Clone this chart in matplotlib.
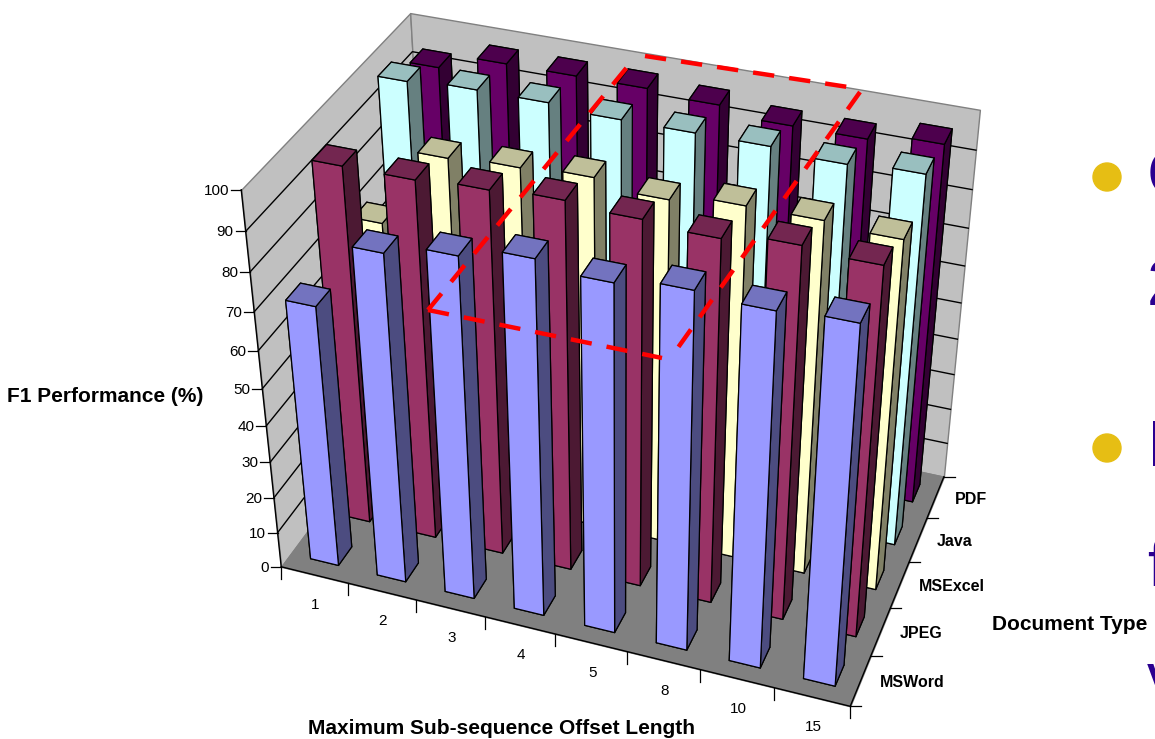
import numpy as np
import matplotlib
matplotlib.use("Agg")
import matplotlib.pyplot as plt
from matplotlib.patches import Circle
from mpl_toolkits.mplot3d import proj3d
from mpl_toolkits.mplot3d.art3d import Poly3DCollection

W, H = 1155, 739
plt.rcParams["font.family"] = ["Liberation Sans", "DejaVu Sans"]

# Chart data
offset_lengths = ["1", "2", "3", "4", "5", "8", "10", "15"]
doc_types = ["MSWord", "JPEG", "MSExcel", "Java", "PDF"]
f1_msword = [71, 88, 91, 94, 92, 94, 93, 94]
f1_jpeg = [96, 96, 97, 98, 97, 96, 98, 97]
f1_msexcel = [72, 92, 93, 94, 92, 94, 94, 93]
f1_java = [99, 100, 100, 99, 99, 99, 98, 99]
f1_pdf = [94, 98, 98, 98, 97, 95, 95, 97]
z_ticks = [0, 10, 20, 30, 40, 50, 60, 70, 80, 90, 100]

# (front, top, side) colours of each series
series = [
    (f1_msword, "#9999FF", "#7373BF", "#4C4C80"),
    (f1_jpeg, "#993366", "#732650", "#4C1933"),
    (f1_msexcel, "#FFFFCC", "#BFBF99", "#808066"),
    (f1_java, "#CCFFFF", "#99BFBF", "#668080"),
    (f1_pdf, "#660066", "#4D004D", "#330033"),
]

# Camera, fitted against the wall corners of the picture
ELEV, AZIM, FOCAL, ASPECT_Y, ASPECT_Z = 34.7559, -70.0527, 0.5361, 0.6273, 0.7462
SCALE, CX, CY = 4433.35, 620.71, 344.73
BAR_W = 0.42

fig = plt.figure(figsize=(W / 100, H / 100), dpi=100)
ax = fig.add_axes([0, 0, 1, 1], projection="3d", computed_zorder=False)
ax.set_xlim(0, 8)
ax.set_ylim(0, 5)
ax.set_zlim(0, 100)
ax.view_init(elev=ELEV, azim=AZIM)
ax.set_proj_type("persp", focal_length=FOCAL)
ax.set_box_aspect((1, ASPECT_Y, ASPECT_Z))
ax.set_axis_off()
ax.patch.set_alpha(0)

# Place the axes so that its projection scale matches the picture
vx0, vx1 = ax.viewLim.intervalx
vy0, vy1 = ax.viewLim.intervaly
side = SCALE * (vx1 - vx0)
left = CX + SCALE * vx0
bottom = (H - CY) + SCALE * vy0
ax.set_position([left / W, bottom / H, side / W, SCALE * (vy1 - vy0) / H])


def to_px(x, y, z):
    xs, ys, _ = proj3d.proj_transform(x, y, z, ax.get_proj())
    return CX + SCALE * xs, CY - SCALE * ys


# Walls and floor
wall = "#C0C0C0"
ax.add_collection3d(Poly3DCollection([[(0, 0, 0), (0, 5, 0), (0, 5, 100), (0, 0, 100)]],
                                     facecolors=wall, edgecolors="#808080", linewidths=1, zorder=1))
ax.add_collection3d(Poly3DCollection([[(0, 5, 0), (8, 5, 0), (8, 5, 100), (0, 5, 100)]],
                                     facecolors=wall, edgecolors="#808080", linewidths=1, zorder=1))
ax.add_collection3d(Poly3DCollection([[(0, 0, 0), (8, 0, 0), (8, 5, 0), (0, 5, 0)]],
                                     facecolors="#808080", edgecolors="#808080", linewidths=1, zorder=1))
for z in z_ticks[1:-1]:
    ax.plot([0, 0, 8], [0, 5, 5], [z, z, z], color="black", lw=1, zorder=2)
ax.plot([0, 0], [0, 0], [0, 100], color="black", lw=1, zorder=2)
ax.plot([0, 8, 8], [0, 0, 5], [0, 0, 0], color="black", lw=1, zorder=2)

# Bars, back row first and left to right
order = 10
for j in range(len(doc_types) - 1, -1, -1):
    vals, front, top, sidec = series[j]
    for i, v in enumerate(vals):
        # face order of bar3d: -z, +z, -y, +y, -x, +x
        face_colors = [top, top, front, front, sidec, sidec]
        ax.bar3d(i + (1 - BAR_W) / 2 + 0.01, j + (1 - BAR_W) / 2, 0, BAR_W, BAR_W, v,
                 color=face_colors, edgecolor="black", linewidth=0.9,
                 shade=False, zorder=order)
        order += 1

# Flat overlay in picture pixels for ticks, text and the marks on top of the chart
ov = fig.add_axes([0, 0, 1, 1], facecolor="none")
ov.set_xlim(0, W)
ov.set_ylim(H, 0)
ov.axis("off")

for z in z_ticks:
    px, py = to_px(0, 0, z)
    ov.plot([px - 10, px], [py, py], color="black", lw=0.9)
    ov.text(px - 12, py + 1, str(z), ha="right", va="center", fontsize=11)

for i in range(len(offset_lengths) + 1):
    px, py = to_px(i, 0, 0)
    ov.plot([px, px], [py, py + 12], color="black", lw=0.9)
for i, name in enumerate(offset_lengths):
    px, py = to_px(i + 0.5, 0, 0)
    ov.text(px + 1, py + 30, name, ha="center", va="center", fontsize=11)

for j in range(len(doc_types) + 1):
    px, py = to_px(8, j, 0)
    ov.plot([px, px + 11], [py, py], color="black", lw=0.9)
for j, name in enumerate(doc_types):
    px, py = to_px(8, j + 0.5, 0)
    ov.text(px + 19, py + 2, name, ha="left", va="center", fontsize=11.5, fontweight="bold")

ov.text(105.5, 396, "F1 Performance (%)", ha="center", va="center", fontsize=15, fontweight="bold")
ov.text(501, 729, "Maximum Sub-sequence Offset Length", ha="center", va="center",
        fontsize=15, fontweight="bold")
ov.text(1069.5, 625, "Document Type", ha="center", va="center", fontsize=15, fontweight="bold")

# Red dashed box drawn over the chart, one side at a time
box_sides = [
    ((428, 628), (310, 66)),
    ((645, 848), (56, 87)),
    ((860, 672), (92, 356)),
    ((428, 662), (310, 358)),
]
for sx, sy in box_sides:
    ov.plot(sx, sy, color="#FF0000", lw=3.2, linestyle=(0, (4.8, 3.4)), dash_capstyle="butt")

# Slide bullets and the text cut off by the right edge
bullet_y = [177, 448]
for y in bullet_y:
    ov.add_patch(Circle((1107, y), 14, color="#E6BE14"))
cut_text = ["C", "2", "I", "f", "v"]
cut_base = [195, 305, 466, 586, 698]
for s, y in zip(cut_text, cut_base):
    ov.text(1147, y, s, ha="left", va="baseline", fontsize=47, color="#2A0090")

fig.savefig("out.png", dpi=100)
